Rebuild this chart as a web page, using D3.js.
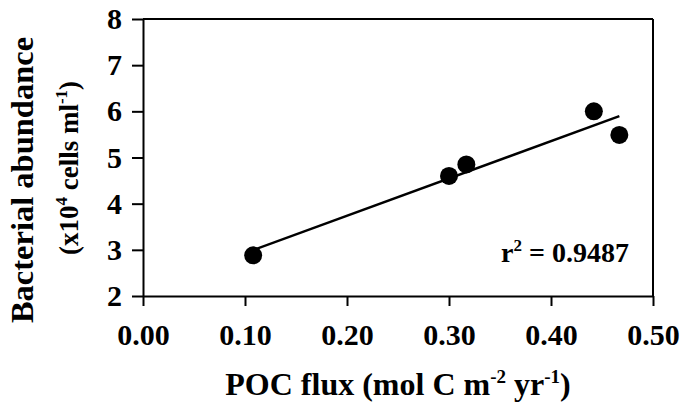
<!DOCTYPE html>
<html>
<head>
<meta charset="utf-8">
<script src="https://cdn.jsdelivr.net/npm/d3@7"></script>
<style>
  body { margin: 0; background: #fff; }
  svg { display: block; font-family: "Liberation Serif", "Times New Roman", serif; font-weight: bold; }
  .axis path, .axis line { stroke: #000; stroke-width: 2px; }
  .axis text { font-size: 30px; font-family: "Liberation Serif", serif; font-weight: bold; fill: #000; }
</style>
</head>
<body>
<div id="chart"></div>
<script>
// POC flux (mol C m-2 yr-1) vs bacterial abundance (x10^4 cells ml-1)
var pocFlux = [0.108, 0.300, 0.317, 0.442, 0.467];
var abundance = [2.88, 4.60, 4.85, 6.00, 5.49];
var xTicks = [0, 0.1, 0.2, 0.3, 0.4, 0.5];
var yTicks = [2, 3, 4, 5, 6, 7, 8];
var rSquared = "0.9487";

var width = 684, height = 404;
var plotLeft = 143, plotRight = 653, plotTop = 19, plotBottom = 296;

var svg = d3.select("#chart").append("svg")
    .attr("width", width)
    .attr("height", height);

var x = d3.scaleLinear().domain([0, 0.5]).range([plotLeft, plotRight]);
var y = d3.scaleLinear().domain([2, 8]).range([plotBottom, plotTop]);

// frame top and right
svg.append("line")
    .attr("x1", plotLeft).attr("x2", plotRight)
    .attr("y1", plotTop).attr("y2", plotTop)
    .attr("stroke", "#000").attr("stroke-width", 2);
svg.append("line")
    .attr("x1", plotRight).attr("x2", plotRight)
    .attr("y1", plotTop).attr("y2", plotBottom)
    .attr("stroke", "#000").attr("stroke-width", 2);

svg.append("g")
    .attr("class", "axis")
    .attr("transform", "translate(0," + plotBottom + ")")
    .call(d3.axisBottom(x).tickValues(xTicks).tickFormat(d3.format(".2f"))
        .tickSize(10).tickSizeOuter(0).tickPadding(18));

svg.append("g")
    .attr("class", "axis")
    .attr("transform", "translate(" + plotLeft + ",0)")
    .call(d3.axisLeft(y).tickValues(yTicks).tickFormat(d3.format("d"))
        .tickSize(11).tickSizeOuter(0).tickPadding(10));

// least-squares fit
var mx = d3.mean(pocFlux), my = d3.mean(abundance);
var sxy = d3.sum(pocFlux, function (d, i) { return (d - mx) * (abundance[i] - my); });
var sxx = d3.sum(pocFlux, function (d) { return (d - mx) * (d - mx); });
var slope = sxy / sxx, intercept = my - slope * mx;
var x0 = d3.min(pocFlux), x1 = d3.max(pocFlux);

svg.append("line")
    .attr("x1", x(x0)).attr("y1", y(intercept + slope * x0))
    .attr("x2", x(x1)).attr("y2", y(intercept + slope * x1))
    .attr("stroke", "#000").attr("stroke-width", 2.5);

svg.selectAll(".pt")
    .data(pocFlux)
    .enter()
    .append("circle")
    .attr("class", "pt")
    .attr("cx", function (d) { return x(d); })
    .attr("cy", function (d, i) { return y(abundance[i]); })
    .attr("r", 9)
    .attr("fill", "#000");

// r squared label
var rt = svg.append("text")
    .attr("x", 501).attr("y", 262)
    .attr("font-size", 28);
rt.append("tspan").text("r");
rt.append("tspan").attr("font-size", 17).attr("dy", -11).text("2");
rt.append("tspan").attr("dy", 11).text(" = " + rSquared);

// x title
var xt = svg.append("text")
    .attr("x", (plotLeft + plotRight) / 2).attr("y", 395)
    .attr("text-anchor", "middle")
    .attr("font-size", 32);
xt.append("tspan").text("POC flux (mol C m");
xt.append("tspan").attr("font-size", 19).attr("dy", -12).text("-2");
xt.append("tspan").attr("dy", 12).text(" yr");
xt.append("tspan").attr("font-size", 19).attr("dy", -12).text("-1");
xt.append("tspan").attr("dy", 12).text(")");

// y title, two lines
svg.append("text")
    .attr("transform", "translate(33,180) rotate(-90)")
    .attr("text-anchor", "middle")
    .attr("font-size", 32.5)
    .text("Bacterial abundance");

var yt2 = svg.append("text")
    .attr("transform", "translate(78,168) rotate(-90)")
    .attr("text-anchor", "middle")
    .attr("font-size", 27);
yt2.append("tspan").text("(x10");
yt2.append("tspan").attr("font-size", 17).attr("dy", -11).text("4");
yt2.append("tspan").attr("dy", 11).text(" cells ml");
yt2.append("tspan").attr("font-size", 17).attr("dy", -11).text("-1");
yt2.append("tspan").attr("dy", 11).text(")");
</script>
</body>
</html>
